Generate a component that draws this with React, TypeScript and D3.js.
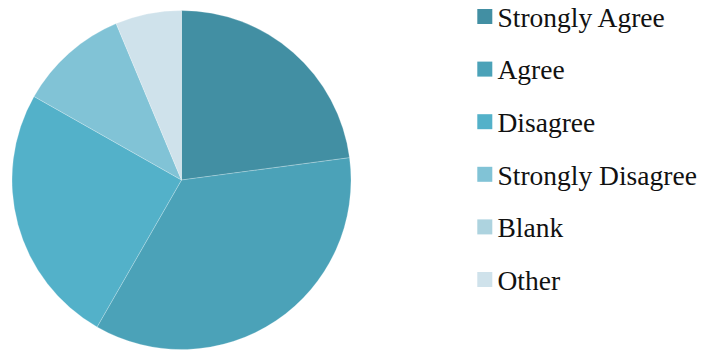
import React from "react";
import * as d3 from "d3";

const categories = ["Strongly Agree", "Agree", "Disagree", "Strongly Disagree", "Blank", "Other"];
const values = [22.9, 35.4, 24.9, 10.5, 0, 6.3];
const colors = ["#428fa3", "#4ba2b8", "#53b1c9", "#81c3d6", "#add3df", "#cfe2eb"];

const W = 702;
const H = 350;
const cx = 181.5;
const cy = 180;
const R = 169.5;

export default function App() {
  const data = categories.map((c, i) => ({ label: c, value: values[i], color: colors[i] }));
  const pie = d3.pie<any>().value((d: any) => d.value).sort(null);
  const arc = d3.arc<any>().innerRadius(0).outerRadius(R);
  const arcs = pie(data);
  const legendY = d3.scalePoint<string>().domain(categories).range([16.5, 279.5]);
  return (
    <svg width={W} height={H} style={{ position: "absolute", left: 0, top: 0, display: "block" }}>
      <rect width={W} height={H} fill="#fff" />
      <g transform={`translate(${cx},${cy})`}>
        {arcs.map((a, i) =>
          a.data.value > 0 ? (
            <path key={i} d={arc(a) as string} fill={a.data.color} stroke="#ffffff" strokeOpacity={0.45} strokeWidth={0.5} />
          ) : null
        )}
      </g>
      <g>
        {data.map((d, i) => {
          const y = legendY(d.label) as number;
          return (
            <g key={i}>
              <rect x={477.3} y={y - 7.5} width={15} height={15} fill={d.color} />
              <text x={497.5} y={y + 10.2} fontFamily="'Liberation Serif', serif" fontSize={27.5} fill="#111">
                {d.label}
              </text>
            </g>
          );
        })}
      </g>
    </svg>
  );
}
